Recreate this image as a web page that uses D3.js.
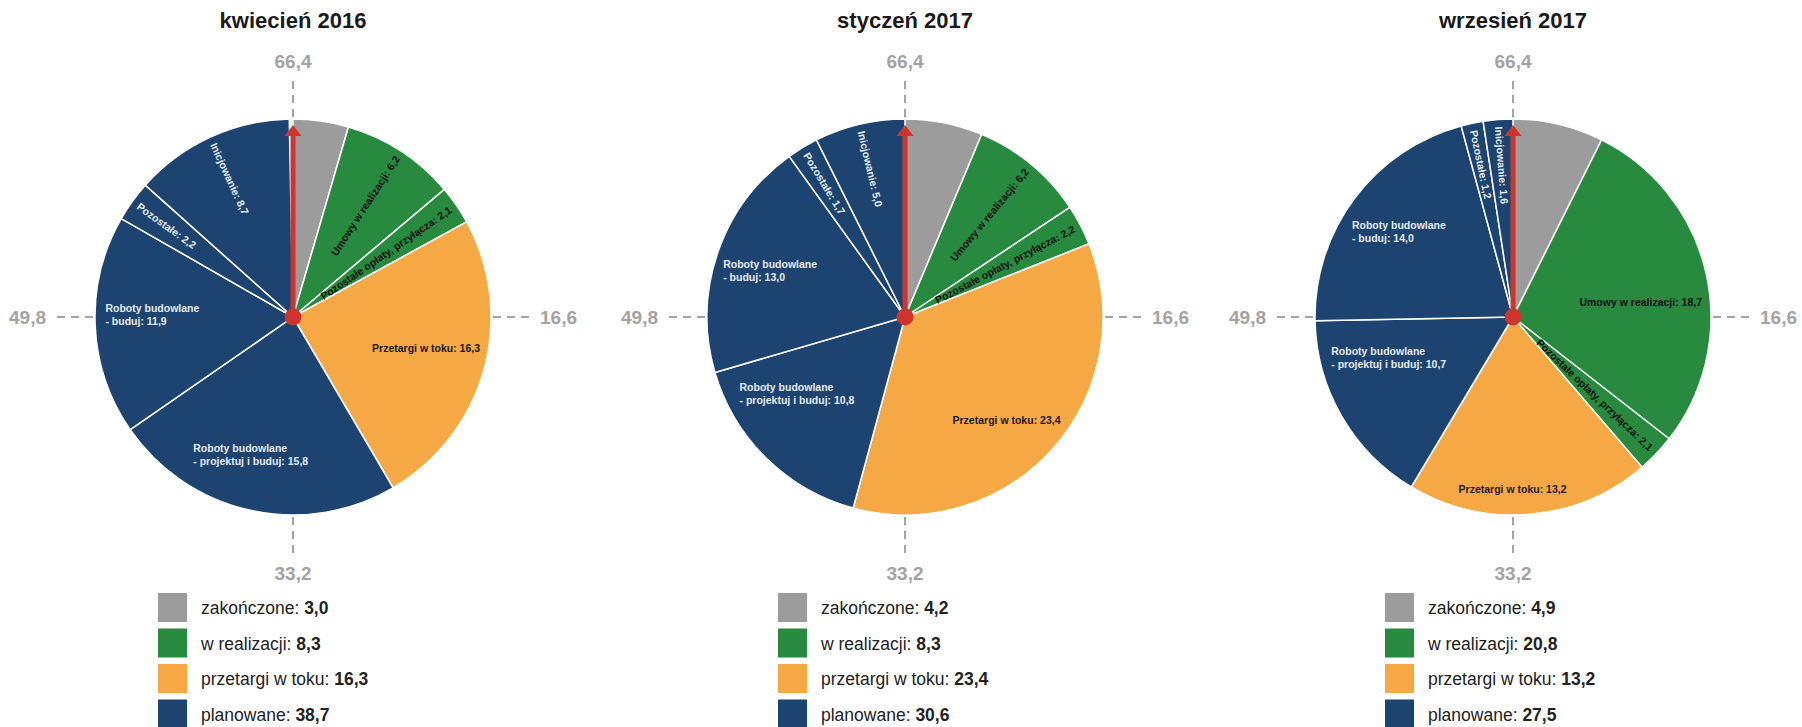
<!DOCTYPE html>
<html>
<head>
<meta charset="utf-8">
<script src="https://cdn.jsdelivr.net/npm/d3@7"></script>
<style>
body{margin:0;background:#fff;}
svg{display:block;font-family:"Liberation Sans",Arial,sans-serif;}
</style>
</head>
<body>
<div id="chart"></div>
<script>
// data
var total = 66.4;
var periods = ["kwiecień 2016", "styczeń 2017", "wrzesień 2017"];
var sliceNames = [null, "Umowy w realizacji", "Pozostałe opłaty, przyłącza", "Przetargi w toku",
  "Roboty budowlane - projektuj i buduj", "Roboty budowlane - buduj", "Pozostałe", "Inicjowanie"];
var sliceGroup = [0, 1, 1, 2, 3, 3, 3, 3];
var slices2016_04 = [3.0, 6.2, 2.1, 16.3, 15.8, 11.9, 2.2, 8.7];
var slices2017_01 = [4.2, 6.2, 2.2, 23.4, 10.8, 13.0, 1.7, 5.0];
var slices2017_09 = [4.9, 18.7, 2.1, 13.2, 10.7, 14.0, 1.2, 1.6];
var groupNames = ["zakończone", "w realizacji", "przetargi w toku", "planowane"];
var groups2016_04 = [3.0, 8.3, 16.3, 38.7];
var groups2017_01 = [4.2, 8.3, 23.4, 30.6];
var groups2017_09 = [4.9, 20.8, 13.2, 27.5];
var axisTicks = [16.6, 33.2, 49.8, 66.4];

var sliceValues = [slices2016_04, slices2017_01, slices2017_09];
var groupValues = [groups2016_04, groups2017_01, groups2017_09];

// layout / style
var width = 1802, height = 727;
var centersX = [293, 905, 1513], centerY = 317, R = 198;
var legendDx = [-135, -127, -128];
var groupColors = ["#9c9c9c", "#288a3f", "#f5a843", "#1d4470"];
var labelColors = ["#fff", "#111", "#1a1a1a", "#e6eaf0"];
var red = "#cf342d";
// per-label tweaks for the horizontal labels: [degrees off mid-angle, radius fraction]
var labelNudge = [
  {3: [-2.4, 0.69], 4: [4.5, 0.73], 5: [3.2, 0.71]},
  {3: [3.6, 0.73], 4: [10, 0.67], 5: [0, 0.72]},
  {1: [6, 0.65], 3: [5, 0.87], 4: [12, 0.66], 5: [0, 0.72]}
];

var svg = d3.select("#chart").append("svg")
  .attr("width", width)
  .attr("height", height);
svg.append("rect").attr("width", width).attr("height", height).attr("fill", "#fff");

var angle = d3.scaleLinear().domain([0, total]).range([0, 2 * Math.PI]).clamp(true);
var arc = d3.arc().innerRadius(0).outerRadius(R);
function fmt(v){ return d3.format(".1f")(v).replace(".", ","); }

periods.forEach(function(title, p){
  var cx = centersX[p];
  var g = svg.append("g").attr("transform", "translate(" + cx + "," + centerY + ")");

  svg.append("text")
    .attr("x", cx).attr("y", 28)
    .attr("text-anchor", "middle")
    .style("font-size", "22px").style("font-weight", "bold").style("fill", "#1a1a1a")
    .text(title);

  var cum = 0;
  var slices = sliceValues[p].map(function(v, i){
    var s = {i: i, v: v, start: angle(cum), end: angle(cum + v)};
    cum += v;
    s.mid = (s.start + s.end) / 2;
    return s;
  });

  // axis dashes + labels
  axisTicks.forEach(function(t){
    var a = angle(t), sx = Math.sin(a), sy = -Math.cos(a);
    g.append("line")
      .attr("x1", sx * (R + 2)).attr("y1", sy * (R + 2))
      .attr("x2", sx * (R + 41)).attr("y2", sy * (R + 41))
      .attr("stroke", "#a3a3a3").attr("stroke-width", 2)
      .attr("stroke-dasharray", "8,6");
    var side = Math.abs(sx) > 0.5;
    var r = side ? R + 49 : R + 58;
    g.append("text")
      .attr("x", sx * r).attr("y", sy * r)
      .attr("dy", "0.36em")
      .attr("text-anchor", sx > 0.5 ? "start" : (sx < -0.5 ? "end" : "middle"))
      .style("font-size", "19px").style("font-weight", "bold").style("fill", "#a3a3a3")
      .text(fmt(t));
  });

  g.selectAll("path.slice")
    .data(slices)
    .enter()
    .append("path")
    .attr("class", "slice")
    .attr("d", function(d){ return arc({startAngle: d.start, endAngle: d.end}); })
    .attr("fill", function(d){ return groupColors[sliceGroup[d.i]]; })
    .attr("stroke", "#fff")
    .attr("stroke-width", 1.5);

  // slice labels
  slices.forEach(function(d){
    var name = sliceNames[d.i];
    if (!name) return;
    var col = labelColors[sliceGroup[d.i]];
    if (d.v < 10) {
      var deg = d.mid * 180 / Math.PI, rr = R - 7;
      var right = d.mid < Math.PI;
      g.append("text")
        .attr("transform", "translate(" + (Math.sin(d.mid) * rr) + "," + (-Math.cos(d.mid) * rr) + ") rotate(" + (right ? deg - 90 : deg + 90) + ")")
        .attr("dy", "0.35em")
        .attr("text-anchor", right ? "end" : "start")
        .style("font-size", "10.5px").style("font-weight", "bold").style("fill", col)
        .text(name + ": " + fmt(d.v));
    } else {
      var nud = labelNudge[p][d.i] || [0, 0.71];
      var a = d.mid + nud[0] * Math.PI / 180, r = R * nud[1];
      var parts = name.split(" - ");
      var lines = parts.length > 1 ? [parts[0], "- " + parts[1] + ": " + fmt(d.v)] : [name + ": " + fmt(d.v)];
      var t = g.append("text")
        .style("font-size", "10.5px").style("font-weight", "bold").style("fill", col);
      lines.forEach(function(ln, k){
        t.append("tspan").attr("x", 0).attr("y", k * 13 + 3.7).text(ln);
      });
      var w = t.node().getBBox().width, h = (lines.length - 1) * 13;
      t.attr("transform", "translate(" + (Math.sin(a) * r - w / 2) + "," + (-Math.cos(a) * r - h / 2) + ")");
    }
  });

  // red arrow at zero
  var arrow = g.append("g").attr("transform", "rotate(" + (angle(0) * 180 / Math.PI) + ")");
  arrow.append("line")
    .attr("x1", 0).attr("y1", 0).attr("x2", 0).attr("y2", -(R - 15))
    .attr("stroke", red).attr("stroke-width", 5);
  arrow.append("path")
    .attr("d", "M0," + (-(R - 6)) + "L-8.5," + (-(R - 17)) + "L8.5," + (-(R - 17)) + "Z")
    .attr("fill", red);
  g.append("circle").attr("r", 8.5).attr("fill", red);

  // legend
  var lg = svg.append("g").attr("transform", "translate(" + (cx + legendDx[p]) + ",593)");
  var rows = lg.selectAll("g.row")
    .data(groupNames)
    .enter()
    .append("g")
    .attr("transform", function(d, k){ return "translate(0," + (k * 35.5) + ")"; });
  rows.append("rect")
    .attr("width", 29).attr("height", 29)
    .attr("fill", function(d, k){ return groupColors[k]; });
  var lt = rows.append("text")
    .attr("x", 43).attr("y", 21)
    .style("font-size", "17.5px").style("fill", "#222");
  lt.append("tspan").text(function(d){ return d + ": "; });
  lt.append("tspan").style("font-weight", "bold")
    .text(function(d, k){ return fmt(groupValues[p][k]); });
});
</script>
</body>
</html>
